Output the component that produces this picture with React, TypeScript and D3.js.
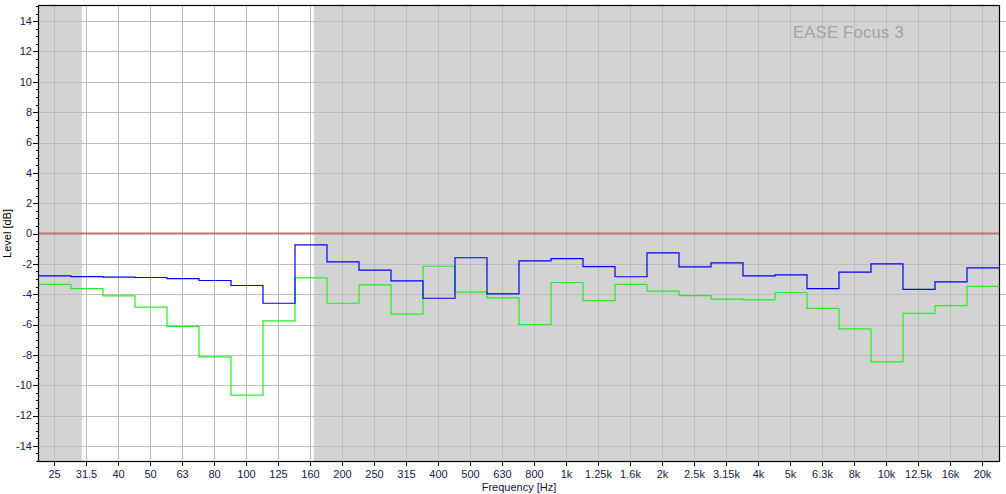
import React from "react";
import * as d3 from "d3";

const bands = ["25","31.5","40","50","63","80","100","125","160","200","250","315","400","500","630","800","1k","1.25k","1.6k","2k","2.5k","3.15k","4k","5k","6.3k","8k","10k","12.5k","16k","20k"];
const blueLevels = [-2.8,-2.84,-2.87,-2.9,-2.97,-3.1,-3.43,-4.6,-0.75,-1.87,-2.42,-3.12,-4.27,-1.6,-3.98,-1.8,-1.65,-2.18,-2.85,-1.28,-2.2,-1.94,-2.79,-2.73,-3.63,-2.55,-2.0,-3.69,-3.19,-2.27];
const greenLevels = [-3.36,-3.63,-4.11,-4.86,-6.13,-8.13,-10.66,-5.76,-2.92,-4.6,-3.39,-5.32,-2.16,-3.87,-4.24,-6.0,-3.23,-4.42,-3.35,-3.8,-4.09,-4.33,-4.37,-3.89,-4.94,-6.29,-8.46,-5.27,-4.75,-3.49];
const yMajorTicks = [-14,-12,-10,-8,-6,-4,-2,0,2,4,6,8,10,12,14];
const analysisRangeHz = [30.3, 161];
const referenceLevel = 0;

const W = 1006, H = 494;
const M = { left: 39, right: 999, top: 6, bottom: 461 };

export default function App() {
  const x = d3.scaleBand<string>().domain(bands).range([M.left, M.right]).padding(0);
  const bw = x.bandwidth();
  const y = d3.scaleLinear().domain([-15, 15]).range([M.bottom, M.top]);
  const fLog = d3.scaleLog()
    .domain([25, 25 * Math.pow(10, (bands.length - 1) / 10)])
    .range([(x(bands[0]) as number) + bw / 2, (x(bands[bands.length - 1]) as number) + bw / 2]);

  const stepPath = (vals: number[]) => {
    const pts: [number, number][] = vals.map((v, i) => [x(bands[i]) as number, v]);
    pts.push([M.right, vals[vals.length - 1]]);
    return d3.line<[number, number]>().x(d => d[0]).y(d => y(d[1])).curve(d3.curveStepAfter)(pts) || "";
  };

  const minor = d3.range(-15, 15.001, 0.5);
  const wx0 = fLog(analysisRangeHz[0]);
  const wx1 = fLog(analysisRangeHz[1]);
  const font = "'Liberation Sans', Arial, sans-serif";
  const tickColor = "#15204a";
  const gridColor = "#bdbdbd";

  return (
    <svg width={W} height={H} style={{ position: "absolute", left: 0, top: 0, background: "#fff" }} fontFamily={font}>
      <rect x={M.left} y={M.top} width={M.right - M.left} height={M.bottom - M.top} fill="#d3d3d3" />
      <rect x={wx0} y={M.top} width={wx1 - wx0} height={M.bottom - M.top} fill="#ffffff" />
      {yMajorTicks.filter(t => t !== referenceLevel).map(t => (
        <line key={"gy" + t} x1={M.left} x2={W} y1={Math.round(y(t)) + 0.5} y2={Math.round(y(t)) + 0.5} stroke={gridColor} strokeWidth={1} />
      ))}
      {bands.map(b => {
        const cx = Math.round((x(b) as number) + bw / 2) - 0.5;
        return <line key={"gx" + b} x1={cx} x2={cx} y1={M.top} y2={M.bottom} stroke={gridColor} strokeWidth={1} />;
      })}
      <line x1={M.left} x2={M.right} y1={y(referenceLevel)} y2={y(referenceLevel)} stroke="#c07272" strokeWidth={2} />
      <path d={stepPath(greenLevels)} fill="none" stroke="#22ee22" strokeWidth={1.2} />
      <path d={stepPath(blueLevels)} fill="none" stroke="#0000ff" strokeWidth={1.2} />
      <text x={793} y={38} fontSize={16.5} fill="#a3a3a3" letterSpacing={0.3}>EASE Focus 3</text>
      <rect x={M.left - 0.5} y={M.top - 0.5} width={M.right - M.left + 1} height={M.bottom - M.top + 1} fill="none" stroke="#000" strokeWidth={1.2} />
      {minor.map(t => (
        <line key={"my" + t} x1={M.left - 3} x2={M.left} y1={Math.round(y(t)) + 0.5} y2={Math.round(y(t)) + 0.5} stroke="#000" strokeWidth={1} />
      ))}
      {yMajorTicks.map(t => (
        <g key={"ty" + t}>
          <line x1={M.left - 6} x2={M.left} y1={Math.round(y(t)) + 0.5} y2={Math.round(y(t)) + 0.5} stroke="#000" strokeWidth={1} />
          <text x={M.left - 7} y={y(t)} dy="0.36em" textAnchor="end" fontSize={11} fill={tickColor}>{t}</text>
        </g>
      ))}
      {bands.map(b => {
        const cx = Math.round((x(b) as number) + bw / 2) - 0.5;
        return (
          <g key={"tx" + b}>
            <line x1={cx} x2={cx} y1={M.bottom} y2={M.bottom + 5} stroke="#000" strokeWidth={1} />
            <text x={cx} y={478} textAnchor="middle" fontSize={11} fill={tickColor}>{b}</text>
          </g>
        );
      })}
      <text x={(M.left + M.right) / 2} y={491} textAnchor="middle" fontSize={11} fill="#1a1040">Frequency [Hz]</text>
      <text transform={`translate(11,${y(referenceLevel)}) rotate(-90)`} textAnchor="middle" fontSize={11} fill="#000">Level [dB]</text>
    </svg>
  );
}
